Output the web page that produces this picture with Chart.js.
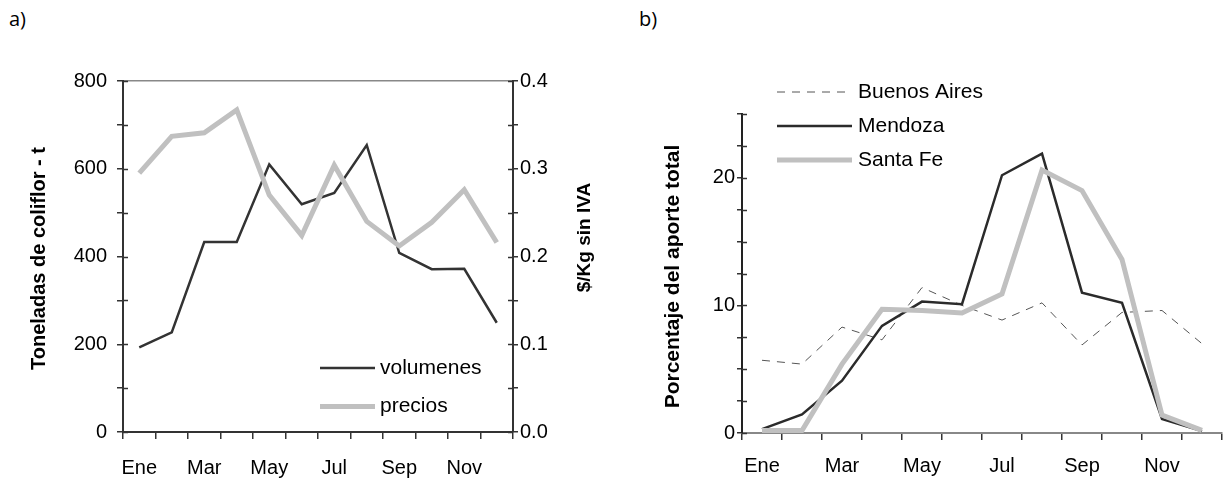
<!DOCTYPE html>
<html>
<head>
<meta charset="utf-8">
<script src="https://cdn.jsdelivr.net/npm/chart.js@4.4.1/dist/chart.umd.min.js"></script>
<style>
  html, body { margin: 0; padding: 0; background: #fff; }
  body { width: 1231px; height: 484px; position: relative; overflow: hidden; }
  .panel { position: absolute; top: 0; height: 484px; }
  #panelA { left: 0; width: 615px; }
  #panelB { left: 615px; width: 616px; }
  .letra { position: absolute; top: 5px; font-family: "Open Sans", sans-serif; font-size: 20px; color: #000; }
</style>
</head>
<body>
<div class="letra" style="left:9px">a)</div>
<div class="letra" style="left:639px">b)</div>
<div class="panel" id="panelA"><canvas id="chartA" width="615" height="484"></canvas></div>
<div class="panel" id="panelB"><canvas id="chartB" width="616" height="484"></canvas></div>
<script>
// datos
const meses = ['Ene', 'Feb', 'Mar', 'Abr', 'May', 'Jun', 'Jul', 'Ago', 'Sep', 'Oct', 'Nov', 'Dic'];
const volumenes = [193, 227, 433, 433, 610, 519, 545, 654, 408, 371, 372, 249];
const precios = [0.295, 0.337, 0.341, 0.367, 0.270, 0.224, 0.304, 0.240, 0.212, 0.239, 0.276, 0.216];
const buenosAires = [5.7, 5.4, 8.3, 7.3, 11.4, 10.0, 8.85, 10.2, 6.9, 9.45, 9.6, 7.0];
const mendoza = [0.3, 1.45, 4.1, 8.4, 10.3, 10.1, 20.2, 21.9, 11.0, 10.2, 1.1, 0.15];
const santaFe = [0.2, 0.2, 5.4, 9.7, 9.6, 9.4, 10.9, 20.6, 19.0, 13.6, 1.4, 0.2];

const FUENTE = '"Liberation Sans", Arial, sans-serif';

// titulos de ejes rotados (leen de abajo hacia arriba)
const titulosEjes = {
  id: 'titulosEjes',
  afterDraw(chart, args, opts) {
    const ctx = chart.ctx;
    opts.items.forEach(t => {
      const sc = chart.scales[t.scale];
      ctx.save();
      ctx.font = t.font;
      ctx.fillStyle = '#000';
      ctx.textAlign = 'center';
      ctx.textBaseline = 'middle';
      ctx.translate(t.x, (sc.top + sc.bottom) / 2 + (t.dy || 0));
      ctx.rotate(-Math.PI / 2);
      ctx.fillText(t.text, 0, 0);
      ctx.restore();
    });
  }
};

// marcas de graduacion hacia adentro (las de afuera las pone Chart.js)
const marcasInternas = {
  id: 'marcasInternas',
  afterDraw(chart, args, opts) {
    const ctx = chart.ctx;
    opts.scales.forEach(id => {
      const sc = chart.scales[id];
      const x0 = sc.position === 'left' ? sc.right : sc.left;
      const dir = sc.position === 'left' ? 1 : -1;
      ctx.save();
      ctx.strokeStyle = '#333';
      ctx.lineWidth = 1.5;
      sc.ticks.forEach(tk => {
        const y = Math.round(sc.getPixelForValue(tk.value)) + 0.5;
        ctx.beginPath();
        ctx.moveTo(x0, y);
        ctx.lineTo(x0 + dir * opts.len, y);
        ctx.stroke();
      });
      ctx.restore();
    });
  }
};

// leyenda dibujada dentro del area del grafico
const leyenda = {
  id: 'leyenda',
  afterDatasetsDraw(chart, args, opts) {
    const ctx = chart.ctx;
    const a = chart.chartArea;
    ctx.save();
    ctx.font = opts.font;
    ctx.textBaseline = 'middle';
    ctx.textAlign = 'left';
    opts.rows.forEach((idx, i) => {
      const ds = chart.data.datasets[idx];
      const y = a.top + opts.top + i * opts.gap;
      ctx.save();
      ctx.strokeStyle = ds.borderColor;
      ctx.lineWidth = ds.borderWidth;
      ctx.setLineDash(ds.borderDash || []);
      ctx.beginPath();
      ctx.moveTo(a.left + opts.x1, y);
      ctx.lineTo(a.left + opts.x2, y);
      ctx.stroke();
      ctx.restore();
      ctx.fillStyle = '#000';
      ctx.fillText(ds.label, a.left + opts.textX, y);
    });
    ctx.restore();
  }
};

const esDecimo = v => Math.abs(v * 10 - Math.round(v * 10)) < 1e-6;

const ejeX = (colorBorde, alto, pad) => ({
  offset: true,
  grid: { offset: true, drawOnChartArea: false, drawTicks: true, tickLength: 7, tickColor: '#333', lineWidth: 1.5 },
  border: { color: colorBorde, width: 2 },
  ticks: {
    color: '#000', font: { family: FUENTE, size: 20 }, padding: pad,
    autoSkip: false, maxRotation: 0,
    callback: (v, i) => (i % 2 === 0 ? meses[i] : '')
  },
  afterFit: s => { s.height = alto; }
});

// a) volumenes y precios
new Chart(document.getElementById('chartA'), {
  type: 'line',
  data: {
    labels: meses,
    datasets: [
      { label: 'volumenes', data: volumenes, yAxisID: 'y', borderColor: '#333', borderWidth: 2.5, order: 1 },
      { label: 'precios', data: precios, yAxisID: 'y2', borderColor: '#c0c0c0', borderWidth: 5, order: 0 }
    ]
  },
  options: {
    responsive: false,
    animation: false,
    layout: { padding: { top: 81, left: 0, right: 0, bottom: 0 } },
    elements: { point: { radius: 0 }, line: { tension: 0, borderCapStyle: 'butt' } },
    plugins: {
      legend: { display: false },
      tooltip: { enabled: false },
      titulosEjes: {
        items: [
          { scale: 'y', text: 'Toneladas de coliflor - t', font: 'bold 20px ' + FUENTE, x: 39, dy: 2 },
          { scale: 'y2', text: '$/Kg sin IVA', font: 'bold 19px ' + FUENTE, x: 585, dy: -19 }
        ]
      },
      marcasInternas: { scales: ['y', 'y2'], len: 5 },
      leyenda: { font: '21px ' + FUENTE, rows: [0, 1], top: 287, gap: 38.5, x1: 197, x2: 252, textX: 257 }
    },
    scales: {
      x: ejeX('#333', 52, 17),
      y: {
        position: 'left', min: 0, max: 800,
        ticks: {
          stepSize: 50, color: '#000', font: { family: FUENTE, size: 20 }, padding: 10,
          callback: v => (v % 200 === 0 ? v : '')
        },
        grid: {
          drawOnChartArea: true, tickLength: 6, tickColor: '#333', lineWidth: 1.5,
          color: c => (c.tick && c.tick.value === 800 ? '#888' : 'rgba(0,0,0,0)')
        },
        border: { color: '#333', width: 2 },
        afterFit: s => { s.width = 123; }
      },
      y2: {
        position: 'right', min: 0, max: 0.4,
        ticks: {
          stepSize: 0.05, color: '#000', font: { family: FUENTE, size: 20 }, padding: 2,
          callback: v => (esDecimo(v) ? v.toFixed(1) : '')
        },
        grid: { drawOnChartArea: false, tickLength: 5, tickColor: '#333', lineWidth: 1.5 },
        border: { color: '#333', width: 2 },
        afterFit: s => { s.width = 102; }
      }
    }
  },
  plugins: [titulosEjes, marcasInternas, leyenda]
});

// b) porcentaje del aporte total por origen
new Chart(document.getElementById('chartB'), {
  type: 'line',
  data: {
    labels: meses,
    datasets: [
      { label: 'Buenos Aires', data: buenosAires, borderColor: '#555', borderWidth: 1, borderDash: [8, 7], order: 2 },
      { label: 'Mendoza', data: mendoza, borderColor: '#2b2b2b', borderWidth: 2.5, order: 1 },
      { label: 'Santa Fe', data: santaFe, borderColor: '#c0c0c0', borderWidth: 5, order: 0 }
    ]
  },
  options: {
    responsive: false,
    animation: false,
    layout: { padding: { top: 114, left: 0, right: 9, bottom: 0 } },
    elements: { point: { radius: 0 }, line: { tension: 0, borderCapStyle: 'butt' } },
    plugins: {
      legend: { display: false },
      tooltip: { enabled: false },
      titulosEjes: {
        items: [
          { scale: 'y', text: 'Porcentaje del aporte total', font: 'bold 21px ' + FUENTE, x: 58, dy: 3 }
        ]
      },
      marcasInternas: { scales: ['y'], len: 5 },
      leyenda: { font: '21px ' + FUENTE, rows: [0, 1, 2], top: -22, gap: 34, x1: 35, x2: 110, textX: 116 }
    },
    scales: {
      x: ejeX('#888', 51, 14),
      y: {
        position: 'left', min: 0, max: 25,
        ticks: {
          stepSize: 2.5, color: '#000', font: { family: FUENTE, size: 20 }, padding: 2,
          callback: v => (v % 10 === 0 ? v : '')
        },
        grid: { drawOnChartArea: false, tickLength: 5, tickColor: '#333', lineWidth: 1.5 },
        border: { color: '#222', width: 2 },
        afterFit: s => { s.width = 127; }
      }
    }
  },
  plugins: [titulosEjes, marcasInternas, leyenda]
});
</script>
</body>
</html>
